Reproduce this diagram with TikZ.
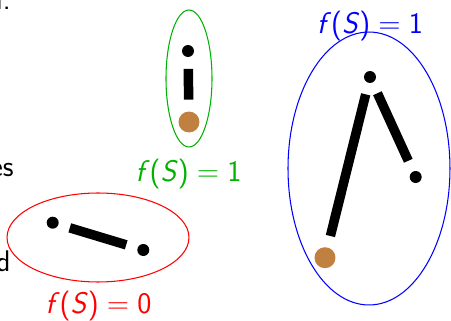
\documentclass[tikz,border=0pt]{standalone}
\usepackage{tikz}
\usetikzlibrary{shapes.geometric, positioning, arrows.meta}

\colorlet{setgreen}{green!70!black}
\newcommand{\fval}[1]{\textsf{\textit{f}(\textit{S})}$\;=\;$\textsf{#1}}

\begin{document}
\begin{tikzpicture}[
        x=0.02cm, y=-0.02cm,
        font=\fontsize{17}{20}\selectfont\sffamily,
        % dots and the thick bars between them
        vertex/.style={circle, fill=black, inner sep=0pt, minimum size=0.24cm},
        root/.style={circle, fill=brown, inner sep=0pt, minimum size=0.42cm},
        link/.style={line width=5.4pt, shorten >=0.23cm, shorten <=0.23cm},
        % the sets round them
        set/.style={ellipse, draw=#1, line width=0.6pt, inner sep=0pt},
        value/.style={anchor=base, text=#1, inner sep=0pt},
        cut/.style={anchor=base east, inner sep=0pt}
    ]
    \useasboundingbox (0,0) rectangle (451,321);

    % --- text cut off at the left edge ---
    \node[cut] (cut1) at (11,10) {d.};
    \node[cut] (cut2) at (14,176) {es};
    \node[cut] (cut3) at (11,272) {d};

    % --- green set ---
    \node[vertex] (g1) at (188,51) {};
    \node[root] (g0) at (189,122) {};
    \draw[link] (g1) -- (g0);
    \node[set=setgreen, minimum width=0.92cm, minimum height=2.74cm] (gset) at (189,78.5) {};
    \node[value=setgreen] (gval) at (188.5,182) {\fval{1}};

    % --- red set ---
    \node[vertex] (r1) at (52.7,222.7) {};
    \node[vertex] (r2) at (143.3,250) {};
    \draw[link] (r1) -- (r2);
    \node[set=red, minimum width=3.64cm, minimum height=1.78cm] (rset) at (98,237.5) {};
    \node[value=red] (rval) at (98.5,314) {\fval{0}};

    % --- blue set ---
    \node[vertex] (b1) at (370,77) {};
    \node[vertex] (b2) at (415.7,177) {};
    \node[root] (b0) at (325,257.7) {};
    \draw[link] (b1) -- (b0);
    \draw[link] (b1) -- (b2);
    \node[set=blue, minimum width=3.24cm, minimum height=5.46cm] (bset) at (369,168.5) {};
    \node[value=blue] (bval) at (370,33) {\fval{1}};

\end{tikzpicture}
\end{document}
